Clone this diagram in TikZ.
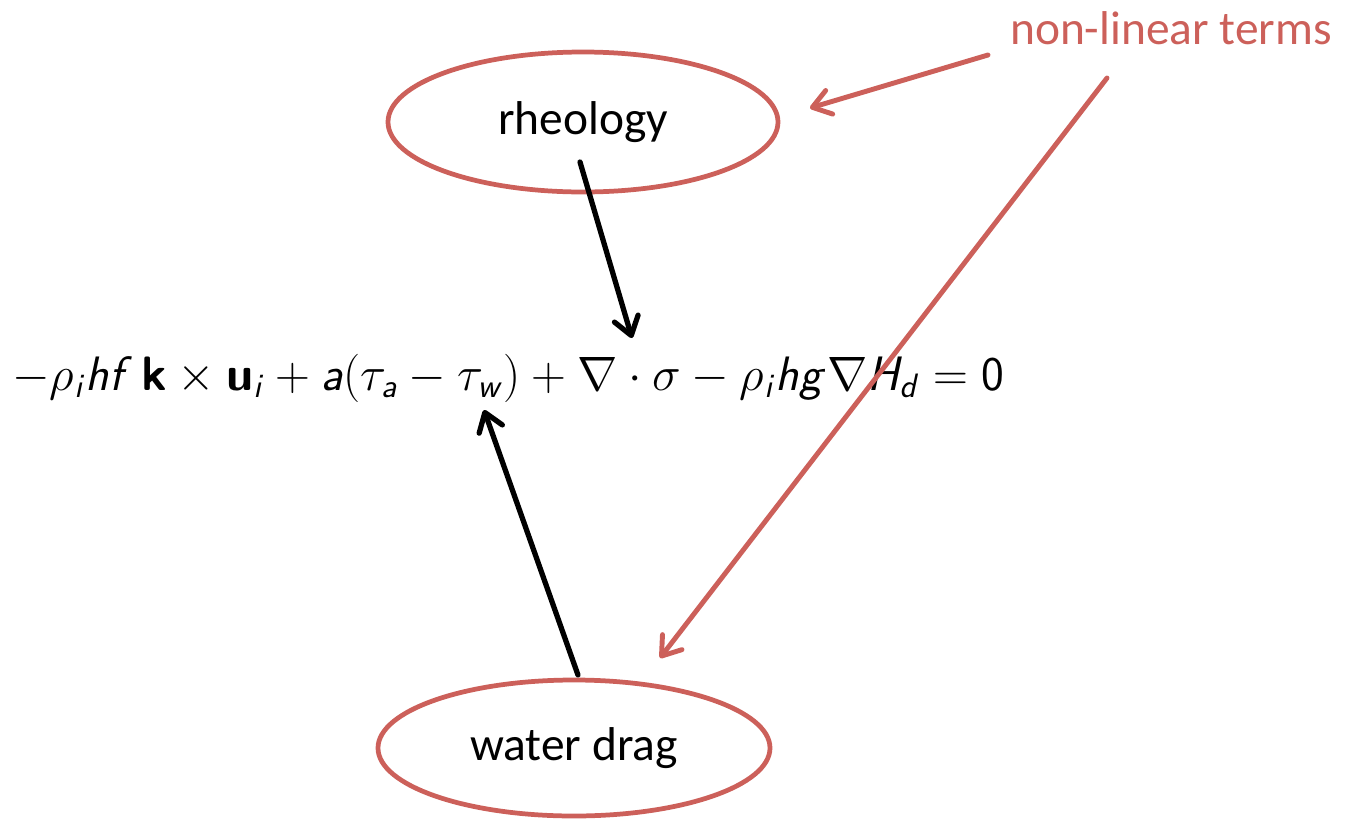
\RequirePackage{fix-cm}
\documentclass[tikz,border=0pt]{standalone}
\usepackage{fontspec}
\newfontfamily\carlito{Carlito}
\usetikzlibrary{shapes.geometric,arrows.meta}
\DeclareMathAlphabet{\mathsfit}{OT1}{cmss}{m}{sl}
\DeclareMathAlphabet{\mathsfbf}{OT1}{cmss}{bx}{n}
\DeclareMathAlphabet{\mathsfup}{OT1}{cmss}{m}{n}
\definecolor{accred}{RGB}{204,96,90}
\tikzset{
  bubble/.style={ellipse, draw=accred, line width=2.7pt, inner sep=0pt, font=\carlito\fontsize{27}{32}\selectfont},
  blackarrow/.style={line width=3pt, line cap=round, -{Straight Barb[length=10pt,width=14pt,line width=3pt,round]}},
  redarrow/.style={draw=accred, line width=2.8pt, line cap=round, -{Straight Barb[length=10pt,width=14pt,line width=2.8pt,round]}},
}
\begin{document}
\begin{tikzpicture}[x=0.02cm,y=-0.02cm]
\useasboundingbox (0,0) rectangle (1350,819);
\node[bubble, minimum width=390*0.02cm, minimum height=140*0.02cm] (rheo) at (583,122) {rheology};
\node[bubble, minimum width=392*0.02cm, minimum height=136*0.02cm] (drag) at (574,748) {water drag};
\node[anchor=base west, inner sep=0pt, font=\fontsize{27.5}{33}\selectfont] (eq) at (12,390)
  {$-\rho_{\mathsfit{i}}\mathsfit{hf}\,\mathsfbf{k}\times\mathsfbf{u}_{\mathsfit{i}} + \mathsfit{a}(\tau_{\mathsfit{a}} - \tau_{\mathsfit{w}}) + \nabla\cdot\sigma - \rho_{\mathsfit{i}}\mathsfit{hg}\nabla \mathsfit{H}_{\mathsfit{d}} = \mathsfup{0}$};
\node[anchor=center, inner sep=0pt, text=accred, font=\carlito\fontsize{27}{32}\selectfont] (nl) at (1171,28) {non-linear terms};
\coordinate (rheoS) at (580,162);
\coordinate (rheoT) at (632,338);
\coordinate (dragS) at (578,675);
\coordinate (dragT) at (484,410);
\coordinate (nlA) at (988,55);
\coordinate (nlB) at (1107,78);
\coordinate (rheoR) at (810,108);
\coordinate (dragR) at (660,658);
\draw[blackarrow] (rheoS) -- (rheoT);
\draw[blackarrow] (dragS) -- (dragT);
\draw[redarrow] (nlA) -- (rheoR);
\draw[redarrow] (nlB) -- (dragR);
\end{tikzpicture}
\end{document}
